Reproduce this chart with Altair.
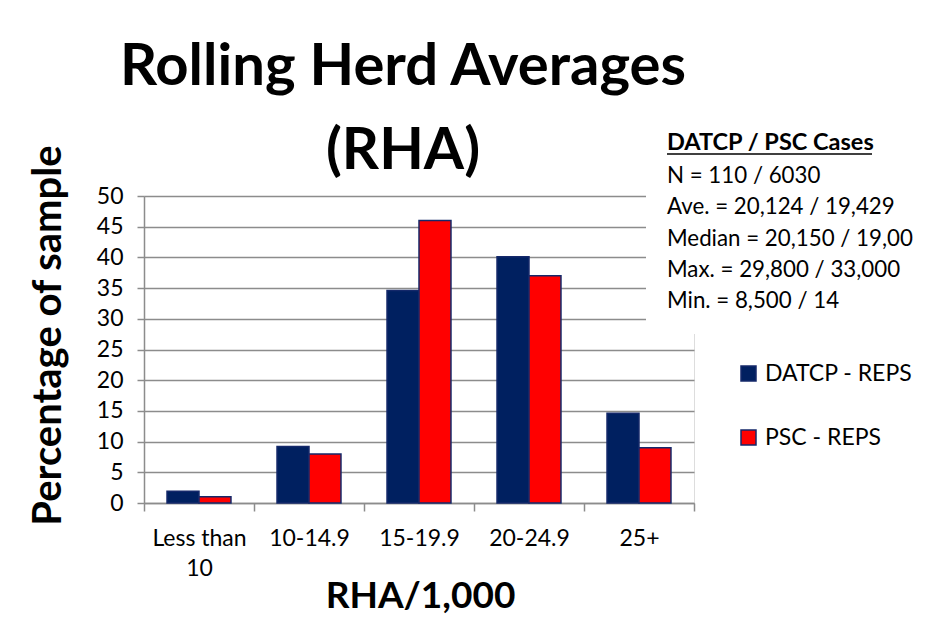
import altair as alt
import pandas as pd

categories = ["Less than 10", "10-14.9", "15-19.9", "20-24.9", "25+"]
datcp = [1.9, 9.2, 34.6, 40.1, 14.6]
psc = [1.0, 8.0, 46.0, 37.0, 9.0]
series = ["DATCP - REPS", "PSC - REPS"]
colors = ["#002060", "#FF0000"]
y_ticks = list(range(0, 55, 5))
title_lines = ["Rolling Herd Averages", "(RHA)"]
box_heading = "DATCP / PSC Cases"
box_lines = ["N = 110 / 6030", "Ave. = 20,124 / 19,429", "Median = 20,150 / 19,00",
             "Max. = 29,800 / 33,000", "Min. = 8,500 / 14"]

rows = []
for c, a, b in zip(categories, datcp, psc):
    rows.append({"cat": c, "series": series[0], "value": a})
    rows.append({"cat": c, "series": series[1], "value": b})
df = pd.DataFrame(rows)

FONT = "Lato"
W, H = 550, 307
GRID = "#8c8c8c"
EDGE = "#14286a"

bars = alt.Chart(df).mark_bar(stroke=EDGE, strokeWidth=1.5).encode(
    x=alt.X("cat:N", sort=categories,
            scale=alt.Scale(paddingInner=0, paddingOuter=0),
            axis=alt.Axis(title="RHA/1,000", labelAngle=0, tickBand="extent",
                          tickSize=8, tickColor=GRID, tickWidth=1.5,
                          domainColor=GRID, domainWidth=1.5,
                          labelFont=FONT, labelFontSize=23, labelColor="black",
                          labelPadding=16, labelLineHeight=30,
                          labelExpr="datum.label == 'Less than 10' ? ['Less than', '10'] : datum.label",
                          titleFont=FONT, titleFontSize=37, titleFontWeight="bold",
                          titleColor="black", titleX=276, titleY=104,
                          titleBaseline="alphabetic", titleAlign="center")),
    xOffset=alt.XOffset("series:N", sort=series,
                        scale=alt.Scale(paddingOuter=0.72, paddingInner=0)),
    y=alt.Y("value:Q", scale=alt.Scale(domain=[0, 50]),
            axis=alt.Axis(values=y_ticks, title="Percentage of sample",
                          grid=True, gridColor=GRID, gridWidth=1.5,
                          tickSize=7, tickColor=GRID, tickWidth=1.5,
                          domainColor=GRID, domainWidth=1.5,
                          labelFont=FONT, labelFontSize=23, labelColor="black",
                          labelPadding=14,
                          titleFont=FONT, titleFontSize=40, titleFontWeight="bold",
                          titleColor="black", titleX=-84, titleY=139,
                          titleBaseline="alphabetic", titleAlign="center", titleAngle=-90)),
    color=alt.Color("series:N", sort=series,
                    scale=alt.Scale(domain=series, range=colors),
                    legend=alt.Legend(title=None, orient="none", legendX=593, legendY=166,
                                      symbolType="square", symbolSize=225,
                                      symbolStrokeColor=EDGE, symbolStrokeWidth=1.5,
                                      labelFont=FONT, labelFontSize=23, labelColor="black",
                                      labelOffset=5, rowPadding=40)),
)

cover = alt.Chart(pd.DataFrame({"k": [0]})).mark_rect(fill="white").encode(
    x=alt.value(502), x2=alt.value(780), y=alt.value(-80), y2=alt.value(138)
)

title = alt.Chart(pd.DataFrame({"k": [0]})).mark_text(
    text=title_lines, font=FONT, fontSize=58, fontWeight="bold", color="black",
    align="center", baseline="alphabetic", lineHeight=84
).encode(x=alt.value(259), y=alt.value(-111))

heading = alt.Chart(pd.DataFrame({"k": [0]})).mark_text(
    text=box_heading, font=FONT, fontSize=23.5, fontWeight="bold", color="black",
    align="left", baseline="alphabetic"
).encode(x=alt.value(523), y=alt.value(-46))

underline = alt.Chart(pd.DataFrame({"k": [0]})).mark_rule(color="black", strokeWidth=1.5).encode(
    x=alt.value(523), x2=alt.value(728), y=alt.value(-42)
)

box = alt.Chart(pd.DataFrame({"k": [0]})).mark_text(
    text=box_lines, font=FONT, fontSize=22.3, color="black",
    align="left", baseline="alphabetic", lineHeight=31.3
).encode(x=alt.value(523), y=alt.value(-13))

chart = alt.layer(bars, cover, title, heading, underline, box).properties(
    width=W, height=H,
    autosize=alt.AutoSizeParams(type="none"),
    padding={"left": 136, "top": 188, "right": 229, "bottom": 124},
).configure_view(stroke=None).configure(background="white")

chart.save("out.html", embed_options={"renderer": "svg", "actions": False})
